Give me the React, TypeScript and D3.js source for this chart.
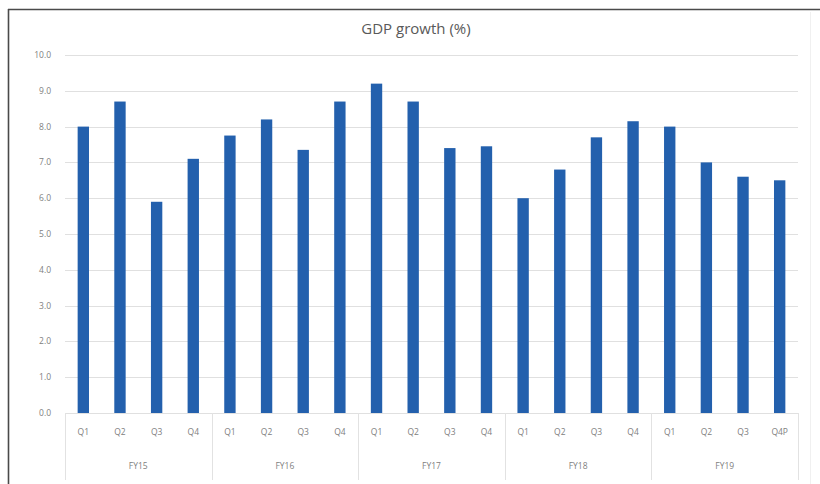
import React, {useEffect, useRef} from 'react';
import * as d3 from 'd3';

// GDP growth by quarter, grouped by fiscal year
const years = ['FY15', 'FY16', 'FY17', 'FY18', 'FY19'];
const quarters = [
  ['Q1', 'Q2', 'Q3', 'Q4'],
  ['Q1', 'Q2', 'Q3', 'Q4'],
  ['Q1', 'Q2', 'Q3', 'Q4'],
  ['Q1', 'Q2', 'Q3', 'Q4'],
  ['Q1', 'Q2', 'Q3', 'Q4P'],
];
const growth = [
  [8.0, 8.7, 5.9, 7.1],
  [7.75, 8.2, 7.35, 8.7],
  [9.2, 8.7, 7.4, 7.45],
  [6.0, 6.8, 7.7, 8.15],
  [8.0, 7.0, 6.6, 6.5],
];
const yTicks = [0, 1, 2, 3, 4, 5, 6, 7, 8, 9, 10];

const W = 820;
const H = 484;
const font = '"Open Sans", "Liberation Sans", sans-serif';

export default function App() {
  const ref = useRef<SVGSVGElement>(null);

  useEffect(() => {
    const svg = d3.select(ref.current);
    svg.selectAll('*').remove();

    const margin = {left: 65, right: 22, top: 55, bottom: 71};
    const plotW = W - margin.left - margin.right;
    const plotH = H - margin.top - margin.bottom;

    const rows = years.flatMap((fy, i) =>
      quarters[i].map((q, j) => ({key: fy + '-' + q, fy, q, v: growth[i][j]})));

    const x = d3.scaleBand()
        .domain(rows.map((d) => d.key))
        .range([margin.left, margin.left + plotW])
        .paddingInner(0.69)
        .paddingOuter(0.345);

    const y = d3.scaleLinear()
        .domain([0, 10])
        .range([margin.top + plotH, margin.top]);

    // outer frame (left and top edges only)
    svg.append('line')
        .attr('x1', 8.5).attr('x2', 8.5)
        .attr('y1', 9).attr('y2', H)
        .attr('stroke', '#4a4a4a').attr('stroke-width', 1.6);
    svg.append('line')
        .attr('x1', 8).attr('x2', W)
        .attr('y1', 9.5).attr('y2', 9.5)
        .attr('stroke', '#4a4a4a').attr('stroke-width', 1.6);
    svg.append('line')
        .attr('x1', 810.5).attr('x2', 810.5)
        .attr('y1', 12).attr('y2', H)
        .attr('stroke', '#f0f0f0');

    svg.append('text')
        .attr('x', 416).attr('y', 34)
        .attr('text-anchor', 'middle')
        .style('font-family', font)
        .style('font-size', '15px')
        .attr('fill', '#595959')
        .text('GDP growth (%)');

    // gridlines + y labels
    const grid = svg.append('g');
    grid.selectAll('line')
        .data(yTicks)
        .join('line')
        .attr('x1', margin.left).attr('x2', margin.left + plotW)
        .attr('y1', (d) => Math.round(y(d)) + 0.5)
        .attr('y2', (d) => Math.round(y(d)) + 0.5)
        .attr('stroke', '#e0e0e0');
    grid.selectAll('text')
        .data(yTicks)
        .join('text')
        .attr('x', 51)
        .attr('y', (d) => y(d) + 3)
        .attr('text-anchor', 'end')
        .style('font-family', font)
        .style('font-size', '8.5px')
        .attr('fill', '#808080')
        .text((d) => d.toFixed(1));

    svg.append('g').selectAll('rect')
        .data(rows)
        .join('rect')
        .attr('x', (d) => x(d.key) as number)
        .attr('width', x.bandwidth())
        .attr('y', (d) => y(d.v))
        .attr('height', (d) => y(0) - y(d.v))
        .attr('fill', '#2360ad');

    // quarter labels
    svg.append('g').selectAll('text')
        .data(rows)
        .join('text')
        .attr('x', (d) => (x(d.key) as number) + x.bandwidth() / 2)
        .attr('y', 435)
        .attr('text-anchor', 'middle')
        .style('font-family', font)
        .style('font-size', '8.5px')
        .attr('fill', '#808080')
        .text((d) => d.q);

    // fiscal year groups with separators
    const step = x.step();
    const groupW = step * 4;
    const sep = svg.append('g');
    sep.selectAll('line')
        .data(d3.range(years.length + 1))
        .join('line')
        .attr('x1', (i) => Math.round(margin.left + i * groupW) + 0.5)
        .attr('x2', (i) => Math.round(margin.left + i * groupW) + 0.5)
        .attr('y1', y(0)).attr('y2', H - 4)
        .attr('stroke', '#e2e2e2');
    sep.selectAll('text')
        .data(years)
        .join('text')
        .attr('x', (d, i) => margin.left + i * groupW + groupW / 2)
        .attr('y', 469)
        .attr('text-anchor', 'middle')
        .style('font-family', font)
        .style('font-size', '8.5px')
        .attr('fill', '#808080')
        .text((d) => d);
  }, []);

  return (
    <svg ref={ref} width={W} height={H}
      style={{position: 'absolute', left: 0, top: 0, background: '#fff'}} />
  );
}
